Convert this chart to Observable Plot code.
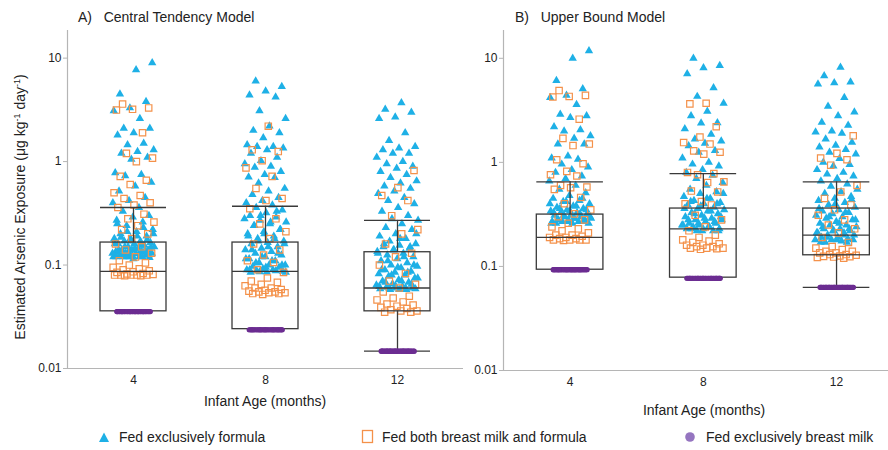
<!DOCTYPE html>
<html>
<head>
<meta charset="utf-8">
<script src="https://cdn.jsdelivr.net/npm/d3@7"></script>
<script src="https://cdn.jsdelivr.net/npm/@observablehq/plot@0.6"></script>
<style>
  html, body { margin: 0; padding: 0; background: #fff; }
  body { width: 888px; height: 450px; position: relative; overflow: hidden; font-family: "Liberation Sans", Arial, sans-serif; color: #222; }
  .abs { position: absolute; }
  .title { font-size: 14px; top: 9px; white-space: nowrap; }
  .xlab { font-size: 14px; white-space: nowrap; transform: translate(-50%, -50%); }
  .ylab { font-size: 14px; white-space: nowrap; left: 20px; top: 207px; transform: translate(-50%, -50%) rotate(-90deg); }
  .legend { font-size: 14px; top: 437px; white-space: nowrap; transform: translateY(-50%); }
  .mk { position: absolute; top: 437px; transform: translate(-50%, -50%); }
  sup { font-size: 9px; }
</style>
</head>
<body>
<div id="plotA" class="abs" style="left:0;top:0"></div>
<div id="plotB" class="abs" style="left:440px;top:0"></div>
<div class="abs title" style="left:78px">A)&nbsp;&nbsp; Central Tendency Model</div>
<div class="abs title" style="left:515px">B)&nbsp;&nbsp; Upper Bound Model</div>
<div class="abs xlab" style="left:265px;top:401px">Infant Age (months)</div>
<div class="abs xlab" style="left:704px;top:410px">Infant Age (months)</div>
<div class="abs ylab">Estimated Arsenic Exposure (μg kg<sup>-1</sup> day<sup>-1</sup>)</div>
<svg class="mk" style="left:104px" width="12" height="12"><path d="M6,1.5 L11,11 L1,11 Z" fill="#1EB0E6"/></svg>
<div class="abs legend" style="left:119px">Fed exclusively formula</div>
<svg class="mk" style="left:368px" width="14" height="16"><rect x="1.5" y="1.5" width="10" height="12" fill="none" stroke="#F4914A" stroke-width="1.3"/></svg>
<div class="abs legend" style="left:382px">Fed both breast milk and formula</div>
<svg class="mk" style="left:690px" width="12" height="12"><circle cx="6" cy="6" r="4.8" fill="#9575C0"/></svg>
<div class="abs legend" style="left:706px">Fed exclusively breast milk</div>
<script>
// ---------- data ----------
const ages = ["4", "8", "12"];
const yTicks = [0.01, 0.1, 1, 10];
const yTickLabels = ["0.01", "0.1", "1", "10"];

// Panel A: Central Tendency Model
const ctFormula = [
  [9.0,7.7,4.5,3.8,3.3,3.1,2.6,2.1,2.1,1.9,1.8,1.5,1.45,1.3,1.25,1.2,1.1,1.05,0.78,0.75,0.73,0.63,0.58,0.52,0.45,0.42,0.40,0.36,0.33,0.30,0.29,0.27,0.26,0.24,0.22,0.21,0.20,0.19,0.18,0.18,0.17,0.17,0.165,0.16,0.16,0.155,0.15,0.15,0.145,0.14,0.14,0.14,0.135,0.135,0.13,0.13,0.13,0.125,0.125,0.12,0.12,0.12,0.12,0.118,0.115,
   0.25,0.23,0.21,0.2,0.19,0.185,0.175,0.17,0.16,0.155,0.15,0.148,0.145,0.14,0.138,0.135,0.13,0.128,0.126,0.125,0.123,0.12,0.12,0.12],
  [6.0,5.3,4.8,4.4,4.2,3.1,2.6,2.2,2.0,1.9,1.7,1.45,1.4,1.4,1.35,1.3,1.2,1.1,1.02,0.95,0.9,0.88,0.8,0.75,0.71,0.7,0.62,0.55,0.52,0.48,0.45,0.42,0.4,0.38,0.36,0.34,0.32,0.3,0.29,0.27,0.26,0.25,0.24,0.22,0.21,0.2,0.19,0.18,0.17,0.165,0.16,0.15,0.145,0.14,0.135,0.13,0.125,0.12,0.115,0.11,0.105,0.1,0.1,0.097,0.095,0.092,0.09,0.09,0.088,0.087,0.086,0.085,
   0.33,0.3,0.28,0.26,0.24,0.22,0.2,0.19,0.18,0.17,0.16,0.15,0.14,0.13,0.12,0.115,0.11,0.105,0.1,0.095,0.09,0.088,0.086,0.085],
  [3.7,3.2,3.0,2.7,2.6,1.9,1.6,1.4,1.35,1.3,1.2,1.2,1.1,1.0,0.95,0.9,0.86,0.8,0.75,0.7,0.65,0.62,0.58,0.55,0.52,0.49,0.45,0.42,0.39,0.36,0.33,0.3,0.28,0.27,0.25,0.23,0.22,0.2,0.19,0.18,0.17,0.16,0.155,0.15,0.145,0.14,0.135,0.13,0.125,0.12,0.115,0.11,0.105,0.1,0.097,0.094,0.09,0.087,0.085,0.082,0.08,0.078,0.075,0.072,0.07,0.068,0.066,0.064,0.062,0.061,0.06,0.06,0.059,0.058,0.058,
   0.2,0.18,0.16,0.15,0.14,0.13,0.12,0.11,0.1,0.095,0.09,0.085,0.08,0.075,0.07,0.068,0.065,0.063,0.062,0.06,0.06,0.059,0.058]
];
const ctBoth = [
  [3.6,3.3,3.2,3.15,1.9,1.2,1.08,1.0,0.72,0.66,0.6,0.5,0.47,0.44,0.40,0.38,0.36,0.31,0.28,0.26,0.24,0.22,0.2,0.18,0.16,0.15,0.14,0.13,0.12,0.11,0.105,0.1,0.095,0.092,0.09,0.088,0.086,0.085,0.083,0.082,0.081,0.08,0.08,0.08,0.08,0.08,0.079,0.079],
  [2.2,1.3,1.25,1.02,0.87,0.72,0.55,0.44,0.42,0.35,0.28,0.25,0.21,0.18,0.16,0.14,0.125,0.11,0.106,0.09,0.085,0.075,0.07,0.068,0.065,0.063,0.06,0.06,0.058,0.057,0.056,0.055,0.055,0.054,0.054,0.053,0.053,0.052],
  [0.82,0.56,0.47,0.42,0.3,0.22,0.2,0.16,0.13,0.12,0.1,0.083,0.07,0.065,0.06,0.055,0.05,0.048,0.046,0.044,0.042,0.041,0.04,0.039,0.038,0.037,0.036,0.036,0.035,0.035]
];
const ctBreast = [0.0355, 0.0237, 0.0147];
const ctBreastN = [40, 40, 40];
const ctWhiskerLow = [0.0357, 0.024, 0.0147];
const ctQ1 = [0.0357, 0.024, 0.0357];
const ctMedian = [0.087, 0.087, 0.06];
const ctQ3 = [0.165, 0.165, 0.133];
const ctWhiskerHigh = [0.36, 0.37, 0.27];

// Panel B: Upper Bound Model
const ubFormula = [
  [11.8,10.0,6.1,5.1,4.4,4.2,3.6,2.9,2.8,2.7,2.2,2.05,2.0,1.8,1.7,1.5,1.5,1.15,1.1,1.07,0.96,0.9,0.85,0.8,0.74,0.7,0.66,0.6,0.55,0.51,0.48,0.45,0.43,0.42,0.4,0.38,0.37,0.36,0.35,0.34,0.33,0.33,0.32,0.31,0.31,0.3,0.3,0.29,0.29,0.28,0.28,0.28,0.27,0.27,0.27,0.26,0.26,0.26,
   0.45,0.42,0.4,0.38,0.36,0.35,0.34,0.33,0.32,0.31,0.3,0.29,0.28,0.27,0.27,0.26],
  [10.0,8.5,8.1,7.1,5.2,4.3,3.7,3.1,2.8,2.4,2.38,2.1,1.86,1.67,1.6,1.52,1.44,1.3,1.25,1.1,1.0,0.96,0.92,0.85,0.8,0.75,0.7,0.64,0.6,0.55,0.52,0.5,0.47,0.45,0.43,0.41,0.4,0.39,0.37,0.36,0.35,0.34,0.33,0.32,0.31,0.3,0.29,0.28,0.28,0.27,0.26,0.26,0.25,0.25,0.24,0.24,0.23,0.23,0.23,0.22,0.22,
   0.5,0.45,0.42,0.4,0.38,0.36,0.34,0.32,0.3,0.29,0.28,0.27,0.26,0.25,0.24,0.23,0.22,0.22],
  [8.2,6.8,5.9,5.8,5.65,4.2,3.45,3.05,2.8,2.43,2.27,2.0,1.95,1.9,1.67,1.56,1.46,1.4,1.33,1.25,1.2,1.09,1.0,0.95,0.92,0.85,0.8,0.77,0.74,0.7,0.66,0.62,0.59,0.55,0.52,0.5,0.47,0.45,0.43,0.41,0.39,0.37,0.35,0.34,0.33,0.32,0.31,0.3,0.29,0.28,0.27,0.26,0.25,0.25,0.24,0.23,0.23,0.22,0.22,0.21,0.21,0.2,0.2,0.19,0.19,0.185,0.18,0.18,0.175,0.17,
   0.44,0.4,0.36,0.33,0.3,0.28,0.26,0.24,0.23,0.22,0.21,0.2,0.19,0.18,0.18,0.17,0.17]
];
const ubBoth = [
  [4.9,4.4,4.3,4.25,2.6,1.7,1.5,1.45,1.06,0.97,0.82,0.76,0.74,0.6,0.58,0.57,0.55,0.46,0.4,0.35,0.32,0.3,0.28,0.26,0.24,0.23,0.22,0.21,0.2,0.2,0.195,0.19,0.19,0.185,0.185,0.18,0.18,0.18,0.18,0.178],
  [3.7,3.65,2.2,1.75,1.55,1.5,1.29,1.25,1.2,0.8,0.78,0.76,0.65,0.64,0.53,0.52,0.42,0.4,0.39,0.31,0.28,0.24,0.22,0.2,0.19,0.18,0.175,0.17,0.165,0.16,0.16,0.155,0.155,0.15,0.15,0.15,0.148,0.146],
  [1.8,1.22,1.1,1.06,0.94,0.6,0.52,0.45,0.39,0.35,0.31,0.28,0.25,0.23,0.21,0.19,0.17,0.155,0.15,0.145,0.14,0.14,0.135,0.135,0.13,0.13,0.128,0.126,0.125,0.124,0.123,0.122,0.12]
];
const ubBreast = [0.093, 0.077, 0.063];
const ubBreastN = [40, 40, 40];
const ubWhiskerLow = [0.093, 0.078, 0.063];
const ubQ1 = [0.093, 0.078, 0.128];
const ubMedian = [0.19, 0.23, 0.20];
const ubQ3 = [0.315, 0.36, 0.36];
const ubWhiskerHigh = [0.65, 0.78, 0.65];

// ---------- helpers ----------
const BLUE = "#1EB0E6", ORANGE = "#F4914A", PURPLE = "#6B2C91", BOX = "#3a3a3a", AXIS = "#b5b5b5";

// deterministic (non-random) jitter offset for horizontal spreading of points
function jitter(i, seed, w) {
  const u = ((i + 1) * 0.6180339887 + seed * 0.3247) % 1;
  return (u - 0.5) * 2 * w;
}
function pointRows(groups, seed, w) {
  const rows = [];
  groups.forEach((vals, g) => vals.forEach((v, i) => rows.push({g, v, x: g + jitter(i, seed + g, w)})));
  return rows;
}
function breastRows(vals, counts, seed) {
  const rows = [];
  vals.forEach((v, g) => d3.range(counts[g]).forEach(i => rows.push({g, v, x: g + jitter(i, seed + g, 0.13)})));
  return rows;
}
function boxRows(lo, q1, med, q3, hi) {
  return ages.map((a, g) => ({g, lo: lo[g], q1: q1[g], med: med[g], q3: q3[g], hi: hi[g]}));
}

function panel({formula, both, breast, breastN, box, width, height, marginLeft, marginRight, xMax}) {
  const f = pointRows(formula, 1, 0.16);
  const b = pointRows(both, 5, 0.16);
  const p = breastRows(breast, breastN, 9);
  const hw = 0.25;
  return Plot.plot({
    width, height, marginLeft, marginRight, marginTop: 30, marginBottom: 27,
    style: {fontFamily: "'Liberation Sans', Arial, sans-serif", fontSize: "12px", color: "#222", background: "transparent"},
    x: {type: "linear", domain: [-0.5, xMax], axis: null},
    y: {type: "log", domain: [0.01, 18.5], axis: null},
    marks: [
      Plot.ruleY([0.01], {stroke: AXIS, strokeWidth: 1.2}),
      Plot.ruleX([-0.5], {stroke: AXIS, strokeWidth: 1.2}),
      Plot.axisY({ticks: yTicks, tickFormat: (d) => yTickLabels[yTicks.indexOf(d)], tickSize: 4, tickPadding: 2, stroke: AXIS, fill: "#222", label: null, fontSize: 12}),
      Plot.axisX({ticks: [0, 1, 2], tickFormat: i => ages[i], tickSize: 0, tickPadding: 7, label: null, fill: "#222", fontSize: 12}),
      Plot.dot(f, {x: "x", y: "v", symbol: "triangle", r: 3.1, fill: BLUE, stroke: "none"}),
      Plot.dot(b, {x: "x", y: "v", symbol: "square", r: 3.6, fill: "none", stroke: ORANGE, strokeWidth: 1.2}),
      Plot.rect(box, {x1: d => d.g - hw, x2: d => d.g + hw, y1: "q1", y2: "q3", fill: "none", stroke: BOX, strokeWidth: 1.3}),
      Plot.ruleY(box, {x1: d => d.g - hw, x2: d => d.g + hw, y: "med", stroke: BOX, strokeWidth: 1.3}),
      Plot.ruleY(box, {x1: d => d.g - hw, x2: d => d.g + hw, y: "hi", stroke: BOX, strokeWidth: 1.3}),
      Plot.ruleY(box.filter(d => d.lo < d.q1), {x1: d => d.g - hw, x2: d => d.g + hw, y: "lo", stroke: BOX, strokeWidth: 1.3}),
      Plot.ruleX(box, {x: "g", y1: "q3", y2: "hi", stroke: BOX, strokeWidth: 1.3}),
      Plot.ruleX(box.filter(d => d.lo < d.q1), {x: "g", y1: "lo", y2: "q1", stroke: BOX, strokeWidth: 1.3}),
      Plot.dot(p, {x: "x", y: "v", r: 2.6, fill: PURPLE, stroke: "none"})
    ]
  });
}

document.getElementById("plotA").append(panel({
  formula: ctFormula, both: ctBoth, breast: ctBreast, breastN: ctBreastN,
  box: boxRows(ctWhiskerLow, ctQ1, ctMedian, ctQ3, ctWhiskerHigh),
  width: 470, height: 395, marginLeft: 67, marginRight: 7, xMax: 2.5
}));
document.getElementById("plotB").append(panel({
  formula: ubFormula, both: ubBoth, breast: ubBreast, breastN: ubBreastN,
  box: boxRows(ubWhiskerLow, ubQ1, ubMedian, ubQ3, ubWhiskerHigh),
  width: 448, height: 397, marginLeft: 63, marginRight: 0, xMax: 2.39
}));
</script>
</body>
</html>
